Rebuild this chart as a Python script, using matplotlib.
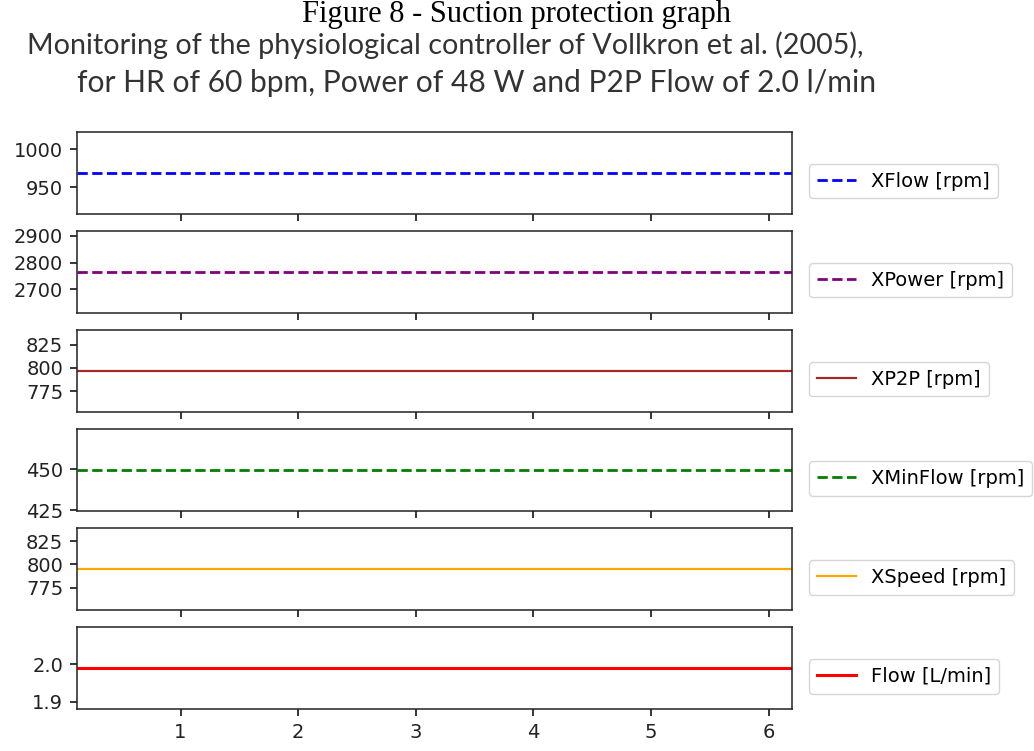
import matplotlib
matplotlib.use("Agg")
import matplotlib.pyplot as plt

# Time axis (s) and the constant outputs of the controller
time = [0.12, 6.2]

xflow = [969, 969]
xpower = [2765, 2765]
xp2p = [796.5, 796.5]
xminflow = [449.5, 449.5]
xspeed = [795, 795]
flow = [1.99, 1.99]

labels = ["XFlow [rpm]", "XPower [rpm]", "XP2P [rpm]",
          "XMinFlow [rpm]", "XSpeed [rpm]", "Flow [L/min]"]
colors = ["blue", "purple", "brown", "green", "orange", "red"]
styles = ["--", "--", "-", "--", "-", "-"]
widths = [2.0, 2.0, 1.6, 2.0, 1.6, 2.2]

plt.rcParams["font.family"] = ["DejaVu Sans"]

fig, axes = plt.subplots(6, 1, sharex=True, figsize=(10.34, 7.51), dpi=100)
fig.subplots_adjust(left=0.0745, right=0.766, top=0.824, bottom=0.056, hspace=0.216)

series = [xflow, xpower, xp2p, xminflow, xspeed, flow]
for ax, values, label, color, ls, lw in zip(axes, series, labels, colors, styles, widths):
    ax.plot(time, values, linestyle=ls, color=color, linewidth=lw, label=label)
    ax.margins(x=0)
    ax.tick_params(labelsize=14, labelcolor="#222222", length=5, width=1.1, pad=4.9)
    for sp in ax.spines.values():
        sp.set_linewidth(1.1)
        sp.set_color("#222222")
    ax.legend(loc="center left", bbox_to_anchor=(1.01, 0.4), fontsize=14)

axes[-1].set_xticks([1, 2, 3, 4, 5, 6])

fig.text(0.5, 0.981, "Figure 8 - Suction protection graph", ha="center", va="center",
         fontsize=22, family="Liberation Serif")
fig.text(0.431, 0.940, "Monitoring of the physiological controller of Vollkron et al. (2005),",
         ha="center", va="center", fontsize=20.7, color="#333333", family="Lato")
fig.text(0.461, 0.889, "for HR of 60 bpm, Power of 48 W and P2P Flow of 2.0 l/min",
         ha="center", va="center", fontsize=21.6, color="#333333", family="Lato")

fig.savefig("out.png", dpi=100)
